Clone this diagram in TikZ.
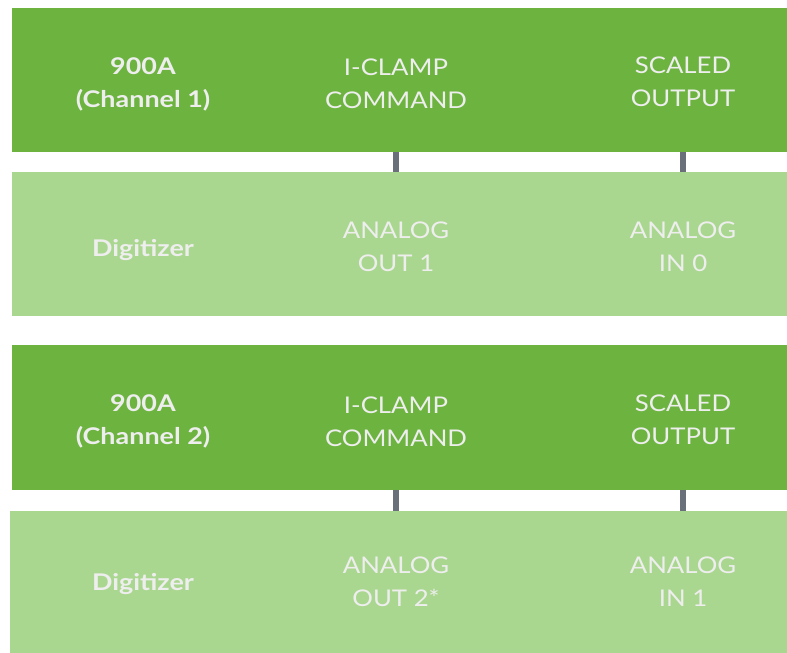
\documentclass[tikz,border=0pt]{standalone}
\usepackage{fontspec}
\setmainfont{Lato}[FakeStretch=1.12, BoldFeatures={FakeStretch=1.17}]
\usetikzlibrary{positioning}

\definecolor{ampgreen}{HTML}{6DB33F}
\definecolor{digigreen}{HTML}{AAD78F}
\definecolor{labelwhite}{HTML}{EEEEEE}
\definecolor{wiregray}{HTML}{6A7079}

\begin{document}
\begin{tikzpicture}[
        x=1pt, y=-1pt,
        band/.style={
            rectangle,
            anchor=north west,
            inner sep=0pt,
            minimum width=775pt
        },
        amp/.style={band, fill=ampgreen, minimum height=144pt},
        digi/.style={band, fill=digigreen, minimum height=144pt},
        label/.style={
            align=center,
            inner sep=0pt,
            text=labelwhite,
            font=\fontsize{23}{33}\selectfont
        },
        title/.style={label, font=\fontsize{23}{33}\selectfont\bfseries},
        wire/.style={draw=wiregray, line width=6pt}
    ]

    \useasboundingbox (0,0) rectangle (787,653);

    % channel 1
    \node[amp] (amp1) at (12,8) {};
    \node[digi] (digi1) at (12,172) {};

    \node[title] (name1) at (143,84) {900A\\(Channel 1)};
    \node[label] (cmd1) at (396,84) {I-CLAMP\\COMMAND};
    \node[label] (out1) at (683,81.5) {SCALED\\OUTPUT};

    \node[title] (dig1) at (143,250) {Digitizer};
    \node[label] (ao1) at (396,247) {ANALOG\\OUT 1};
    \node[label] (ai0) at (683,247) {ANALOG\\IN 0};

    % channel 2
    \node[amp, minimum height=145pt] (amp2) at (12,345) {};
    \node[digi, minimum width=777pt, minimum height=142pt] (digi2) at (10,511) {};

    \node[title] (name2) at (143,421.5) {900A\\(Channel 2)};
    \node[label] (cmd2) at (396,421.5) {I-CLAMP\\COMMAND};
    \node[label] (out2) at (683,419.5) {SCALED\\OUTPUT};

    \node[title] (dig2) at (143,584) {Digitizer};
    \node[label] (ao2) at (396,581.5) {ANALOG\\OUT 2*};
    \node[label] (ai1) at (683,581.5) {ANALOG\\IN 1};

    % wires
    \draw[wire] (amp1.south -| cmd1) -- (digi1.north -| ao1);
    \draw[wire] (amp1.south -| out1) -- (digi1.north -| ai0);
    \draw[wire] (amp2.south -| cmd2) -- (digi2.north -| ao2);
    \draw[wire] (amp2.south -| out2) -- (digi2.north -| ai1);

\end{tikzpicture}
\end{document}
